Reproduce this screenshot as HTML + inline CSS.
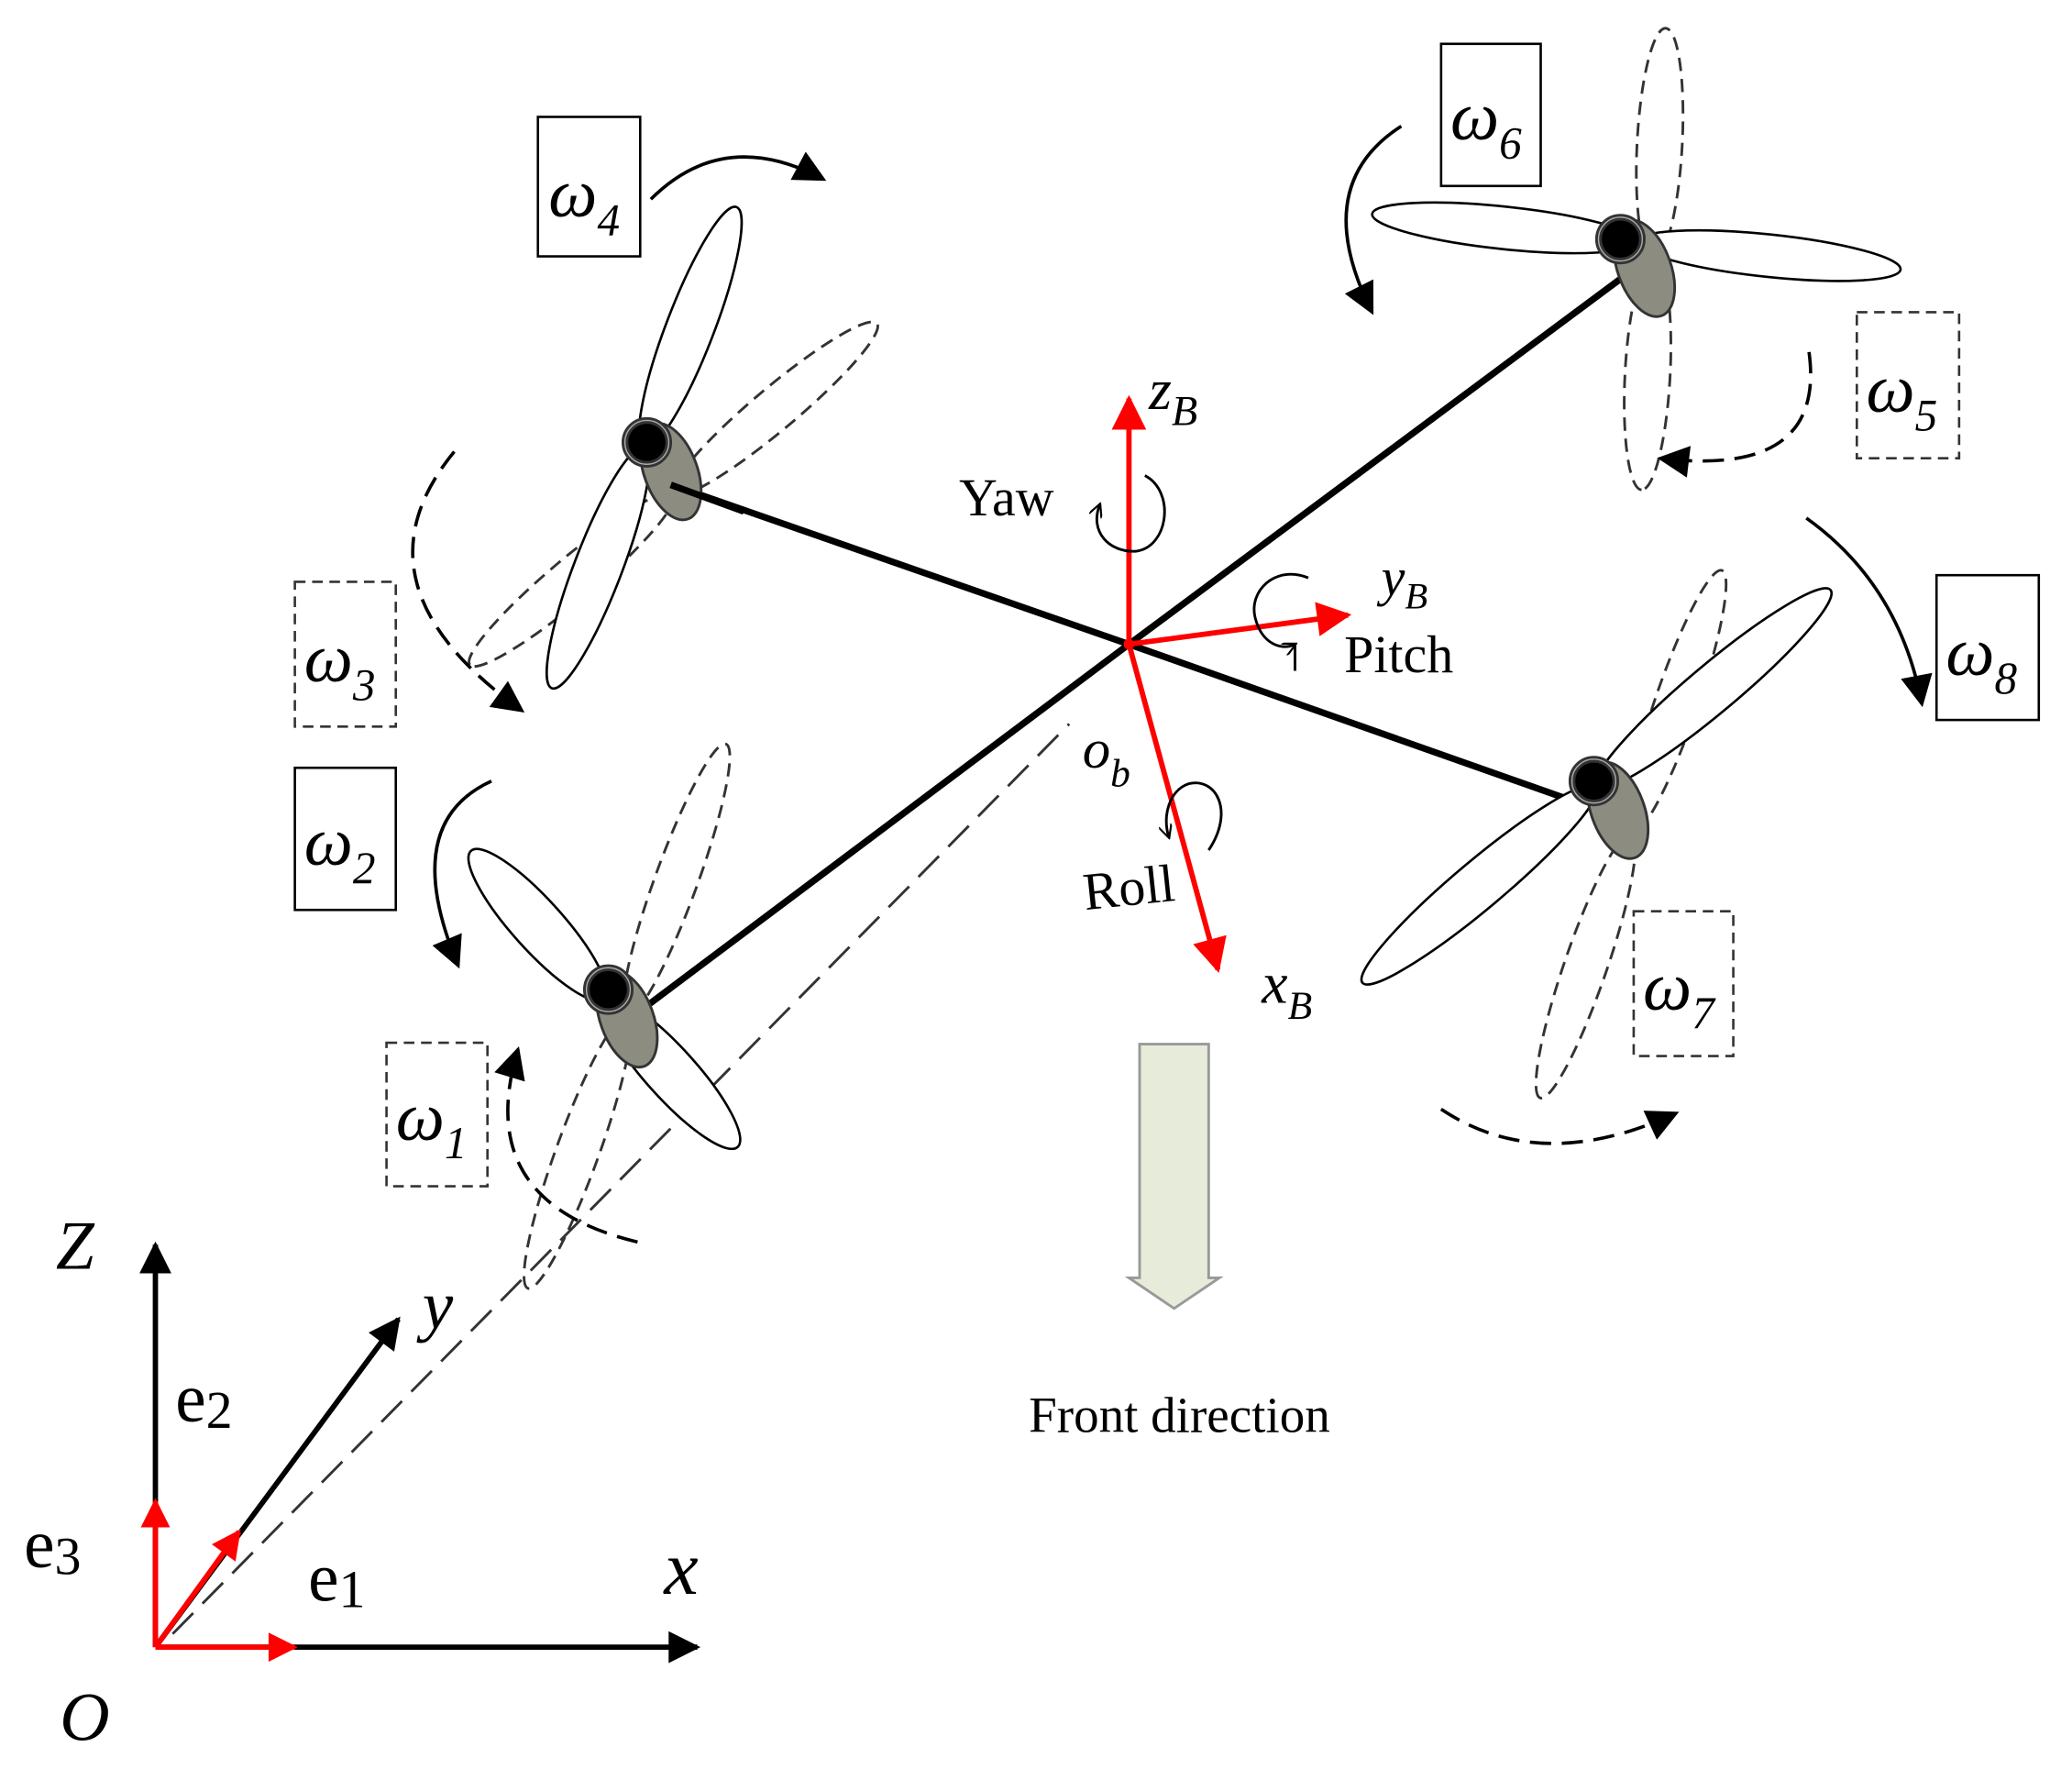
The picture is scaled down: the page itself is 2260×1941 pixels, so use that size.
<!DOCTYPE html>
<html><head><style>html,body{margin:0;padding:0;background:#fff}svg{display:block}</style></head>
<body>
<svg width="2260" height="1941" viewBox="0 0 1560 1340" preserveAspectRatio="none" xmlns="http://www.w3.org/2000/svg" font-family="Liberation Serif, serif">
<defs>
<marker id="abig" viewBox="0 0 10 10" refX="9" refY="5" markerWidth="28" markerHeight="24" orient="auto" markerUnits="userSpaceOnUse"><path d="M0,0 L10,5 L0,10 Z" fill="#000"/></marker>
<marker id="ar" viewBox="0 0 10 10" refX="9" refY="5" markerWidth="34" markerHeight="26" orient="auto" markerUnits="userSpaceOnUse"><path d="M0,0 L10,5 L0,10 Z" fill="#f00"/></marker>
<marker id="ars" viewBox="0 0 10 10" refX="9" refY="5" markerWidth="26" markerHeight="22" orient="auto" markerUnits="userSpaceOnUse"><path d="M0,0 L10,5 L0,10 Z" fill="#f00"/></marker>
<marker id="am" viewBox="0 0 10 10" refX="9" refY="5" markerWidth="12" markerHeight="10" orient="auto" markerUnits="userSpaceOnUse"><path d="M0,0 L10,5 L0,10" fill="none" stroke="#000" stroke-width="1.5"/></marker>
</defs>

<line x1="130" y1="1230" x2="805" y2="545" stroke="#333" stroke-width="2" stroke-dasharray="22,10"/>

<!-- Dashed blades (two petals each) -->
<g fill="none" stroke="#333" stroke-width="2" stroke-dasharray="10,6">
<g transform="translate(507,372) rotate(140)"><ellipse cx="100" cy="0" rx="100" ry="16"/><ellipse cx="-100" cy="0" rx="100" ry="16"/></g>
<g transform="translate(1245,195) rotate(93)"><ellipse cx="87" cy="0" rx="87" ry="17"/><ellipse cx="-87" cy="0" rx="87" ry="17"/></g>
<g transform="translate(1228,628) rotate(109)"><ellipse cx="105" cy="0" rx="105" ry="16"/><ellipse cx="-105" cy="0" rx="105" ry="16"/></g>
<g transform="translate(472,765) rotate(110)"><ellipse cx="109" cy="0" rx="109" ry="16"/><ellipse cx="-109" cy="0" rx="109" ry="16"/></g>
</g>

<g stroke="#000" stroke-width="5">
<line x1="500" y1="363" x2="850" y2="485"/>
<line x1="850" y1="485" x2="1220" y2="210"/>
<line x1="850" y1="485" x2="1190" y2="605"/>
<line x1="850" y1="485" x2="470" y2="770"/>
</g>

<!-- Solid blades -->
<g fill="#fff" stroke="#000" stroke-width="1.8">
<g transform="translate(485,337) rotate(111)"><ellipse cx="97" cy="0" rx="97" ry="18"/><ellipse cx="-97" cy="0" rx="97" ry="18"/></g>
<g transform="translate(1232,182) rotate(6)"><ellipse cx="100" cy="0" rx="100" ry="16"/><ellipse cx="-100" cy="0" rx="100" ry="16"/></g>
<g transform="translate(1202,592) rotate(-40)"><ellipse cx="115" cy="0" rx="115" ry="18"/><ellipse cx="-115" cy="0" rx="115" ry="18"/></g>
<g transform="translate(455,752) rotate(48)"><ellipse cx="75" cy="0" rx="75" ry="19"/><ellipse cx="-75" cy="0" rx="75" ry="19"/></g>
</g>

<g stroke="#333" stroke-width="2">
<g transform="translate(487,333)"><ellipse cx="18" cy="22" rx="20" ry="38" transform="rotate(-20 18 22)" fill="#8c8c80"/><circle r="18" fill="#aaa"/><circle r="15" fill="#000"/></g>
<g transform="translate(1220,180)"><ellipse cx="18" cy="22" rx="20" ry="38" transform="rotate(-20 18 22)" fill="#8c8c80"/><circle r="18" fill="#aaa"/><circle r="15" fill="#000"/></g>
<g transform="translate(1200,588)"><ellipse cx="18" cy="22" rx="20" ry="38" transform="rotate(-20 18 22)" fill="#8c8c80"/><circle r="18" fill="#aaa"/><circle r="15" fill="#000"/></g>
<g transform="translate(458,745)"><ellipse cx="14" cy="22" rx="20" ry="38" transform="rotate(-20 14 22)" fill="#8c8c80"/><circle r="18" fill="#aaa"/><circle r="15" fill="#000"/></g>
</g>
<line x1="505" y1="365" x2="560" y2="385" stroke="#000" stroke-width="5"/>

<g fill="none" stroke="#000" stroke-width="1.8">
<rect x="405" y="88" width="77" height="105"/>
<rect x="1085" y="33" width="75" height="107"/>
<rect x="1458" y="433" width="77" height="109"/>
<rect x="222" y="578" width="76" height="107"/>
</g>
<g fill="none" stroke="#333" stroke-width="1.8" stroke-dasharray="8,5">
<rect x="1398" y="235" width="77" height="110"/>
<rect x="222" y="438" width="76" height="109"/>
<rect x="291" y="785" width="76" height="108"/>
<rect x="1230" y="686" width="75" height="109"/>
</g>
<g font-style="italic" font-size="52" fill="#000">
<text x="413" y="163">ω<tspan font-size="34" dy="14">4</tspan></text>
<text x="1092" y="105">ω<tspan font-size="34" dy="14">6</tspan></text>
<text x="1405" y="310">ω<tspan font-size="34" dy="14">5</tspan></text>
<text x="1465" y="508">ω<tspan font-size="34" dy="14">8</tspan></text>
<text x="229" y="513">ω<tspan font-size="34" dy="14">3</tspan></text>
<text x="229" y="651">ω<tspan font-size="34" dy="14">2</tspan></text>
<text x="298" y="858">ω<tspan font-size="34" dy="14">1</tspan></text>
<text x="1237" y="760">ω<tspan font-size="34" dy="14">7</tspan></text>
</g>

<g fill="none" stroke="#000" stroke-width="2.5">
<path d="M490,150 Q545,95 620,135" marker-end="url(#abig)"/>
<path d="M1055,95 Q985,140 1033,235" marker-end="url(#abig)"/>
<path d="M1360,390 Q1430,440 1447,530" marker-end="url(#abig)"/>
<path d="M370,588 Q300,620 345,727" marker-end="url(#abig)"/>
</g>
<g fill="none" stroke="#000" stroke-width="2.5" stroke-dasharray="16,8">
<path d="M1362,265 Q1375,360 1250,345" marker-end="url(#abig)"/>
<path d="M342,340 Q260,440 393,535" marker-end="url(#abig)"/>
<path d="M480,935 Q355,905 390,790" marker-end="url(#abig)"/>
<path d="M1085,835 Q1160,885 1262,838" marker-end="url(#abig)"/>
</g>

<g stroke="#f00" stroke-width="4" fill="none">
<line x1="850" y1="485" x2="850" y2="300" marker-end="url(#ar)"/>
<line x1="850" y1="485" x2="1015" y2="463" marker-end="url(#ar)"/>
<line x1="850" y1="485" x2="917" y2="730" marker-end="url(#ar)"/>
</g>
<circle cx="850" cy="485" r="4" fill="#f00"/>
<g fill="none" stroke="#000" stroke-width="2">
<path d="M862,358 C885,370 880,412 855,415 C835,416 820,400 828,380" marker-end="url(#am)"/>
<path d="M985,435 C960,425 940,445 945,465 C950,485 965,490 975,485" marker-end="url(#am)"/>
<line x1="975" y1="485" x2="975" y2="505"/>
<path d="M910,640 C930,610 915,585 895,590 C880,595 875,615 880,630" marker-end="url(#am)"/>
</g>
<g font-size="40" fill="#000">
<text x="722" y="388">Yaw</text>
<text x="1012" y="506">Pitch</text>
<text x="817" y="685" transform="rotate(-6 817 685)">Roll</text>
<text x="865" y="308" font-style="italic" font-size="44">z<tspan font-size="32" dy="12">B</tspan></text>
<text x="1040" y="448" font-style="italic" font-size="40">y<tspan font-size="28" dy="10">B</tspan></text>
<text x="950" y="755" font-style="italic" font-size="44">x<tspan font-size="30" dy="12">B</tspan></text>
<text x="815" y="578" font-style="italic" font-size="42">o<tspan font-size="30" dy="14">b</tspan></text>
</g>

<path d="M858,786 L910,786 L910,962 L918,962 L884,985 L850,962 L858,962 Z" fill="#e6ecd9" stroke="#999" stroke-width="2"/>
<text x="888" y="1078" font-size="38" text-anchor="middle" fill="#000">Front direction</text>

<g stroke="#000" stroke-width="4" fill="none">
<line x1="117" y1="1240" x2="117" y2="937" marker-end="url(#abig)"/>
<line x1="117" y1="1240" x2="525" y2="1240" marker-end="url(#abig)"/>
<line x1="117" y1="1240" x2="300" y2="993" marker-end="url(#abig)"/>
</g>
<g stroke="#f00" stroke-width="4" fill="none">
<line x1="117" y1="1240" x2="117" y2="1130" marker-end="url(#ars)"/>
<line x1="117" y1="1240" x2="222" y2="1240" marker-end="url(#ars)"/>
<line x1="117" y1="1240" x2="180" y2="1153" marker-end="url(#ars)"/>
</g>
<g font-size="52" fill="#000">
<text x="42" y="955" font-style="italic">Z</text>
<text x="318" y="1000" font-style="italic">y</text>
<text x="500" y="1200" font-style="italic" font-size="58">x</text>
<text x="45" y="1310" font-style="italic">O</text>
<text x="132" y="1070">e<tspan font-size="40" dy="5">2</tspan></text>
<text x="18" y="1180">e<tspan font-size="40" dy="5">3</tspan></text>
<text x="232" y="1205">e<tspan font-size="40" dy="5">1</tspan></text>
</g>
</svg>
</body></html>
